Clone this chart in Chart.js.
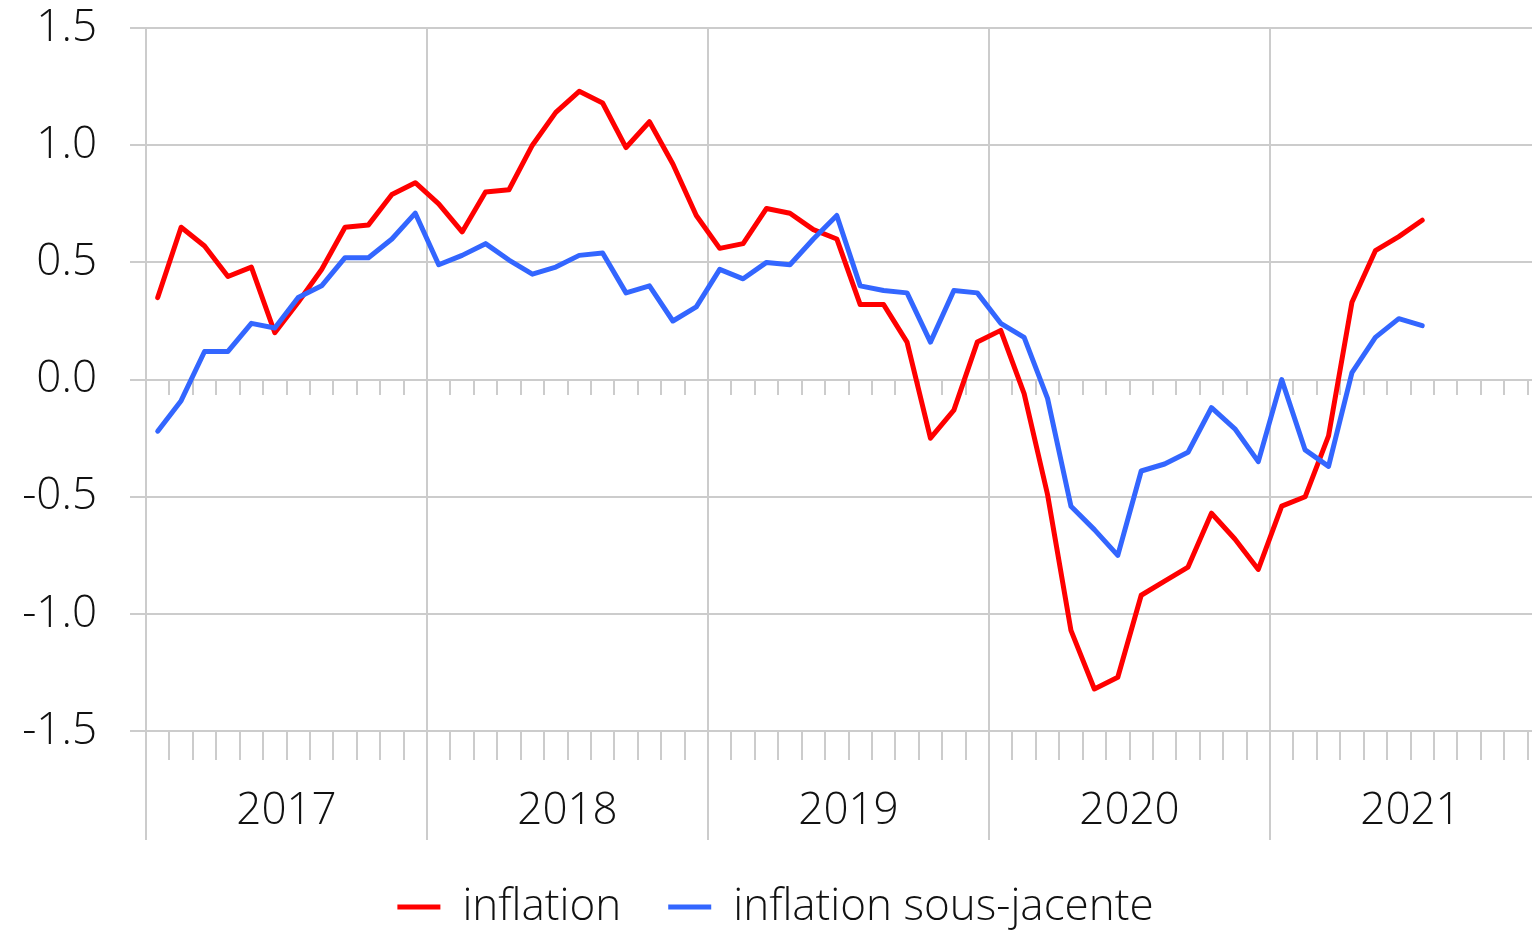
<!DOCTYPE html>
<html>
<head>
<meta charset="utf-8">
<title>inflation</title>
<script src="https://cdn.jsdelivr.net/npm/chart.js@4"></script>
<style>
  html, body { margin: 0; padding: 0; background: #fff; overflow: hidden; }
  #wrap { width: 1552px; height: 932px; }
</style>
</head>
<body>
<div id="wrap"><canvas id="chart"></canvas></div>
<script>
// Years on the axis (Jan 2017 - Dec 2021, monthly)
const years = ["2017", "2018", "2019", "2020", "2021"];

// one label per month, used for the data axis
const monthLabels = [];
for (const y of years) {
  for (let m = 1; m <= 12; m++) {
    monthLabels.push(y + "-" + String(m).padStart(2, "0"));
  }
}

// inflation (Jan 2017 - Jul 2021)
const inflation = [
  0.35, 0.65, 0.57, 0.44, 0.48, 0.2, 0.33, 0.47, 0.65, 0.66, 0.79, 0.84,
  0.75, 0.63, 0.8, 0.81, 1.0, 1.14, 1.23, 1.18, 0.99, 1.1, 0.92, 0.7,
  0.56, 0.58, 0.73, 0.71, 0.64, 0.6, 0.32, 0.32, 0.16, -0.25, -0.13, 0.16,
  0.21, -0.06, -0.49, -1.07, -1.32, -1.27, -0.92, -0.86, -0.8, -0.57, -0.68, -0.81,
  -0.54, -0.5, -0.24, 0.33, 0.55, 0.61, 0.68
];

// inflation sous-jacente (Jan 2017 - Jul 2021)
const inflationSousJacente = [
  -0.22, -0.09, 0.12, 0.12, 0.24, 0.22, 0.35, 0.4, 0.52, 0.52, 0.6, 0.71,
  0.49, 0.53, 0.58, 0.51, 0.45, 0.48, 0.53, 0.54, 0.37, 0.4, 0.25, 0.31,
  0.47, 0.43, 0.5, 0.49, 0.6, 0.7, 0.4, 0.38, 0.37, 0.16, 0.38, 0.37,
  0.24, 0.18, -0.08, -0.54, -0.64, -0.75, -0.39, -0.36, -0.31, -0.12, -0.21, -0.35,
  0.0, -0.3, -0.37, 0.03, 0.18, 0.26, 0.23
];

const gridColor = "#cccccc";
const textColor = "#111111";

Chart.defaults.font.family = "'Open Sans', 'Noto Sans', sans-serif";
Chart.defaults.font.size = 44;
Chart.defaults.font.weight = 300;
Chart.defaults.color = textColor;

// small helper for the category axes that only draw tick marks
function tickAxis(labels, pos, len, onChart) {
  return {
    type: "category",
    labels: labels,
    position: pos,
    offset: true,
    grid: {
      offset: true,
      drawOnChartArea: onChart,
      color: gridColor,
      lineWidth: 2,
      drawTicks: true,
      tickLength: len,
      tickColor: gridColor,
      tickWidth: 2,
    },
    border: { display: false },
    ticks: { display: false },
  };
}

new Chart(document.getElementById("chart"), {
  type: "line",
  data: {
    labels: monthLabels,
    datasets: [
      {
        label: "inflation",
        data: inflation,
        borderColor: "#ff0000",
        backgroundColor: "#ff0000",
        borderWidth: 5,
        pointRadius: 0,
        borderJoinStyle: "round",
        borderCapStyle: "round",
        order: 1,
      },
      {
        label: "inflation sous-jacente",
        data: inflationSousJacente,
        borderColor: "#3366ff",
        backgroundColor: "#3366ff",
        borderWidth: 5,
        pointRadius: 0,
        borderJoinStyle: "round",
        borderCapStyle: "round",
        order: 0,
      },
    ],
  },
  options: {
    responsive: true,
    maintainAspectRatio: false,
    animation: false,
    layout: { padding: { top: 0, right: 1, left: 0, bottom: 0 } },
    plugins: {
      tooltip: { enabled: false },
      legend: {
        position: "bottom",
        maxHeight: 94,
        labels: {
          usePointStyle: true,
          pointStyle: "line",
          pointStyleWidth: 43,
          padding: 47,
          color: textColor,
          font: { size: 44 },
          sort: (a, b) => a.datasetIndex - b.datasetIndex,
        },
      },
    },
    scales: {
      // data axis, sits on the zero line with short month ticks
      x: tickAxis(monthLabels, { y: 0 }, 15, false),
      // month ticks under the bottom gridline
      xMonths: tickAxis(monthLabels, { y: -1.5 }, 29, false),
      // year separators, running down past the month ticks
      xYears: tickAxis(years, { y: -1.5 }, 109, true),
      // year labels (invisible ticks keep the label off the plot)
      xLabels: {
        type: "category",
        position: "bottom",
        labels: years,
        offset: true,
        grid: {
          display: true,
          drawOnChartArea: false,
          drawTicks: true,
          tickLength: 54,
          tickColor: "rgba(0,0,0,0)",
        },
        border: { display: false },
        ticks: {
          autoSkip: false,
          maxRotation: 0,
          padding: 0,
          color: textColor,
          font: { size: 44 },
        },
      },
      y: {
        min: -1.5,
        max: 1.5,
        afterFit: (scale) => {
          scale.width = 146;
          scale.paddingTop = 28;
          scale.paddingBottom = 0;
        },
        grid: {
          color: gridColor,
          lineWidth: 2,
          tickLength: 16,
          tickColor: gridColor,
          tickWidth: 2,
        },
        border: { display: false },
        ticks: {
          stepSize: 0.5,
          padding: 33,
          color: textColor,
          font: { size: 44 },
          callback: (value) => value.toFixed(1),
        },
      },
    },
  },
});
</script>
</body>
</html>
